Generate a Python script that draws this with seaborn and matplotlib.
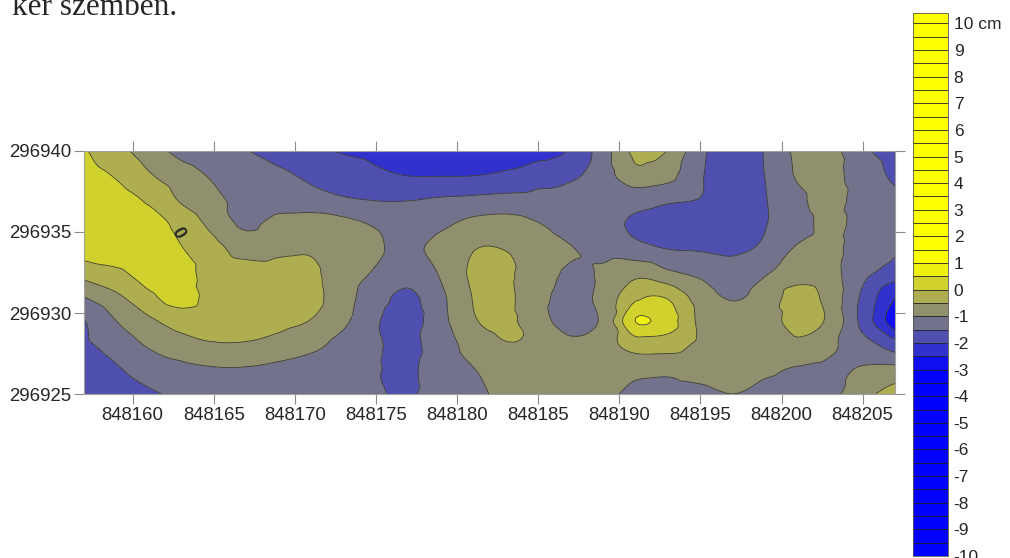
import numpy as np
import matplotlib
matplotlib.use("Agg")
import matplotlib.pyplot as plt
import matplotlib.colors as mcolors
import matplotlib.tri as mtri
import seaborn as sns

# Grid nodes of the surface (EOV coordinates), values in cm
easting = [848157, 848159, 848161, 848163, 848165, 848167, 848169, 848171, 848173,
           848175, 848177, 848179, 848181, 848183, 848185, 848187, 848189, 848191,
           848193, 848195, 848197, 848199, 848201, 848203, 848205, 848207]
northing = [296925.0, 296926.5, 296928.0, 296929.5, 296931.0, 296932.5,
            296934.0, 296935.5, 296937.0, 296938.5, 296940.0]

# one list per northing row, west -> east
z_925_0 = [-1.9, -1.75, -1.57, -1.4, -1.3, -1.3, -1.35, -1.4, -1.45, -1.46, -1.56, -1.25, -1.1,
           -0.9, -0.8, -0.8, -0.9, -1.1, -1.15, -1.1, -1.0, -1.1, -1.15, -1.1, -0.7, -0.15]
z_926_5 = [-1.8, -1.55, -1.3, -1.15, -1.05, -1.05, -1.15, -1.3, -1.4, -1.48, -1.55, -1.3, -1.02,
           -0.75, -0.7, -0.75, -0.8, -0.9, -0.9, -0.85, -0.9, -0.93, -1.05, -1.1, -0.95, -0.88]
z_928_0 = [-1.6, -1.3, -0.95, -0.7, -0.55, -0.55, -0.65, -0.85, -1.2, -1.45, -1.6, -1.25, -0.8,
           -0.53, -0.6, -0.9, -0.7, -0.3, -0.3, -0.6, -0.65, -0.65, -0.6, -0.9, -1.3, -1.75]
z_929_5 = [-1.52, -1.0, -0.6, -0.3, -0.35, -0.35, -0.4, -0.52, -0.9, -1.45, -1.7, -1.15, -0.55,
           -0.4, -0.8, -1.2, -0.9, 0.51, 0.22, -0.6, -0.75, -0.75, -0.3, -0.62, -1.65, -2.85]
z_931_0 = [-1.0, -0.6, -0.1, 0.2, -0.2, -0.3, -0.25, -0.35, -0.8, -1.3, -1.6, -1.1, -0.48,
           -0.4, -0.85, -1.15, -0.85, -0.1, -0.05, -0.75, -1.05, -0.8, -0.3, -0.7, -1.6, -2.5]
z_932_5 = [-0.3, -0.1, 0.2, 0.15, -0.2, -0.3, -0.35, -0.42, -0.75, -1.05, -1.3, -0.95, -0.42,
           -0.42, -0.8, -1.05, -0.95, -0.65, -0.93, -1.1, -1.25, -1.05, -0.75, -0.85, -1.35, -1.7]
z_934_0 = [0.25, 0.4, 0.3, 0.02, -0.35, -0.7, -0.6, -0.55, -0.75, -0.95, -1.08, -0.85, -0.52,
           -0.52, -0.75, -0.98, -1.15, -1.35, -1.52, -1.55, -1.6, -1.4, -0.95, -0.9, -1.2, -1.45]
z_935_5 = [0.35, 0.3, 0.25, -0.18, -0.65, -1.1, -0.8, -0.7, -0.85, -1.05, -1.2, -1.1, -0.85,
           -0.8, -0.98, -1.2, -1.3, -1.6, -1.75, -1.8, -1.75, -1.52, -1.17, -0.9, -1.15, -1.3]
z_937_0 = [0.3, 0.2, -0.08, -0.56, -0.89, -1.15, -1.25, -1.35, -1.45, -1.52, -1.52, -1.45, -1.4,
           -1.35, -1.35, -1.3, -1.2, -1.3, -1.42, -1.52, -1.7, -1.52, -1.1, -0.85, -1.2, -1.4]
z_938_5 = [0.2, -0.05, -0.45, -0.79, -1.06, -1.24, -1.41, -1.58, -1.7, -1.9, -2.01, -2.02, -2.01,
           -1.92, -1.7, -1.6, -1.23, -0.65, -0.85, -1.45, -1.75, -1.49, -0.95, -0.88, -1.23, -1.6]
z_940_0 = [0.05, -0.33, -0.74, -1.15, -1.3, -1.48, -1.68, -1.86, -2.05, -2.15, -2.25, -2.3, -2.3,
           -2.25, -2.2, -1.95, -1.23, -0.4, -0.52, -1.38, -1.8, -1.47, -0.9, -0.85, -1.4, -1.7]

x_ticks = [848160, 848165, 848170, 848175, 848180, 848185, 848190, 848195, 848200, 848205]
y_ticks = [296925, 296930, 296935, 296940]
cb_ticks = list(range(-10, 11))
cb_labels = [str(t) for t in cb_ticks[:-1]] + ["10 cm"]

Z = np.array([z_925_0, z_926_5, z_928_0, z_929_5, z_931_0, z_932_5,
              z_934_0, z_935_5, z_937_0, z_938_5, z_940_0])

sns.set_style("ticks")
plt.rcParams["font.family"] = ["Liberation Sans", "DejaVu Sans"]

# blue below -3 cm, yellow above +1 cm, blended in between
cmap = mcolors.LinearSegmentedColormap.from_list(
    "surfer", [(0.0, "#0000ff"), (0.35, "#0000ff"), (0.55, "#ffff00"), (1.0, "#ffff00")])
cmap.set_over("#ffff00")
levels = np.arange(-10, 10.5, 0.5)

# smooth rendering of the gridded surface (the grid nodes themselves are untouched)
x0 = np.array(easting, dtype=float) - easting[0]
y0 = np.array(northing) - northing[0]
gx, gy = np.meshgrid(x0, y0)
tri = mtri.Triangulation(gx.ravel(), gy.ravel())
interp = mtri.CubicTriInterpolator(tri, Z.ravel(), kind="geom")
refiner = mtri.UniformTriRefiner(tri)
tri_f, z_f = refiner.refine_field(Z.ravel(), triinterpolator=interp, subdiv=3)
tri_f = mtri.Triangulation(tri_f.x + easting[0], tri_f.y + northing[0], tri_f.triangles)

fig = plt.figure(figsize=(10.1, 5.58), dpi=100)
ax = fig.add_axes([0.0832, 0.2939, 0.8030, 0.4355])

cf = ax.tricontourf(tri_f, z_f, levels=levels, cmap=cmap, vmin=-10, vmax=10, extend="max")
ax.tricontour(tri_f, z_f, levels=levels, colors="#3a3a3a", linewidths=0.6, linestyles="solid")
ax.text(848162.75, 296934.95, "0", rotation=-60, fontsize=13, fontweight="bold",
        ha="center", va="center")

ax.set_xlim(848157, 848207)
ax.set_ylim(296925, 296940)
ax.set_xticks(x_ticks)
ax.set_yticks(y_ticks)
ax.ticklabel_format(useOffset=False, style="plain")
ax.tick_params(which="both", direction="out", length=7.5, width=0.8, color="#8c8c8c",
               top=True, right=True, labeltop=False, labelright=False,
               labelsize=13.4, pad=1.5)
for s in ax.spines.values():
    s.set_color("#a0a0a0")
    s.set_linewidth(0.8)

# colour scale (the bar runs a little past 10 at the top)
cax = fig.add_axes([0.904, 0.0036, 0.0347, 0.9726])
cb = fig.colorbar(cf, cax=cax, ticks=cb_ticks, drawedges=True,
                  extendrect=True, extendfrac=0.019)
cb.set_ticklabels(cb_labels)
cb.dividers.set_color("#222222")
cb.dividers.set_linewidth(0.6)
cb.outline.set_linewidth(0.6)
cb.outline.set_edgecolor("#555555")
cax.tick_params(length=0, labelsize=12.5, pad=4)

# tail of the page text above the figure
fig.text(0.012, 0.973, "ker szemben.", family=["Liberation Serif", "DejaVu Serif"],
         fontsize=22.5, va="baseline")

fig.savefig("out.png", dpi=100)
